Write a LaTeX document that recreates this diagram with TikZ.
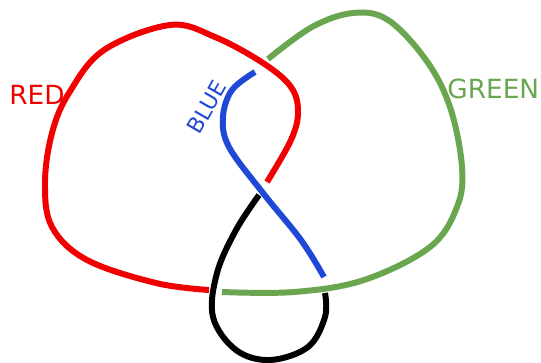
\documentclass[tikz,border=0pt]{standalone}
\usepackage{fontspec}
\newfontfamily\labelfont{DejaVu Sans}
\definecolor{knotred}{RGB}{240,0,0}
\definecolor{knotgreen}{RGB}{106,166,80}
\definecolor{knotblue}{RGB}{32,72,214}
\tikzset{strand/.style={line width=3.4pt}}
\begin{document}
\begin{tikzpicture}[x=0.02cm, y=-0.02cm]
  \useasboundingbox (0,0) rectangle (541,362);
  \draw[knotred, strand]
    plot[smooth, tension=0.6]
    coordinates {(209,290) (156,283) (87,260) (52,227) (45,183) (52,133)
      (69,93) (104,50) (170,25) (215,37) (263,63) (291,87) (298,112)
      (291,140) (267,182)};
  \draw[knotgreen, strand]
    plot[smooth, tension=0.6]
    coordinates {(268,59) (312,27) (353,13) (388,20) (426,60) (450,107)
      (462,167) (457,207) (430,247) (364,280) (294,292) (222,292)};
  \draw[knotblue, strand]
    plot[smooth, tension=0.6]
    coordinates {(255,72) (232,90) (223,117) (229,147) (263,193)
      (301,240) (324,277)};
  \draw[black, strand]
    plot[smooth, tension=0.6]
    coordinates {(259,195) (236,230) (217,273) (213,317) (236,350)
      (270,360) (308,347) (325,317) (325,293)};
  \node[knotred, font=\labelfont\fontsize{15}{18}\selectfont] (red) at (37,95) {RED};
  \node[knotgreen, font=\labelfont\fontsize{15}{18}\selectfont, anchor=west, inner sep=0pt] (green) at (447,89) {GREEN};
  \node[knotblue, font=\labelfont\fontsize{12.5}{15}\selectfont, rotate=60, inner sep=1pt] (blue) at (207,107) {BLUE};
\end{tikzpicture}
\end{document}
